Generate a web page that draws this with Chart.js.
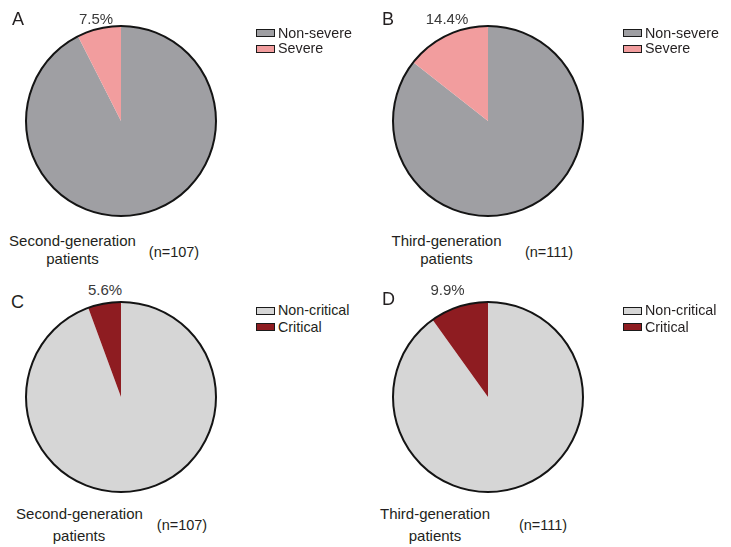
<!DOCTYPE html>
<html>
<head>
<meta charset="utf-8">
<script src="https://cdn.jsdelivr.net/npm/chart.js@4/dist/chart.umd.min.js"></script>
<style>
  html, body { margin: 0; padding: 0; background: #fff; }
  body { width: 731px; height: 547px; position: relative; overflow: hidden;
         font-family: "Liberation Sans", Arial, sans-serif; color: #231f20; }
  .t { position: absolute; line-height: 1; white-space: nowrap; }
  .c { transform: translateX(-50%); }
  .pane { position: absolute; width: 194px; height: 194px; }
  .box { position: absolute; width: 17px; height: 6px; border: 1.5px solid #1a1a1a; }
</style>
</head>
<body>
<script>
// ---- data ----
const panelLetters = ['A', 'B', 'C', 'D'];
const severityCategories = ['Non-severe', 'Severe'];
const criticalCategories = ['Non-critical', 'Critical'];
const secondGenSeverity = [99, 8];    // n=107, 7.5% severe
const thirdGenSeverity  = [95, 16];   // n=111, 14.4% severe
const secondGenCritical = [101, 6];   // n=107, 5.6% critical
const thirdGenCritical  = [100, 11];  // n=111, 9.9% critical
const groupNames = [['Second-generation', 'patients'], ['Third-generation', 'patients'],
                    ['Second-generation', 'patients'], ['Third-generation', 'patients']];
const sampleLabels = ['(n=107)', '(n=111)', '(n=107)', '(n=111)'];
const severityColors = ['#9f9fa3', '#f29d9e'];
const criticalColors = ['#d6d6d6', '#8e1c21'];

// ---- layout ----
const panels = [
  { data: secondGenSeverity, cats: severityCategories, colors: severityColors,
    cx: 121, cy: 121, letter: [12, 9.8], pct: [96, 10.6], leg: [256, 25.8, 41.4],
    cap: [[72.5, 232.6], [72.5, 251]], n: [174, 244.7] },
  { data: thirdGenSeverity, cats: severityCategories, colors: severityColors,
    cx: 488, cy: 121, letter: [382, 10], pct: [447, 10.6], leg: [623, 25.8, 41.4],
    cap: [[446.5, 232.6], [446.5, 251]], n: [549, 244.7] },
  { data: secondGenCritical, cats: criticalCategories, colors: criticalColors,
    cx: 121, cy: 397, letter: [11, 292.8], pct: [105, 282.3], leg: [256, 303.1, 319.6],
    cap: [[79.5, 506], [79, 527.6]], n: [182, 518.1] },
  { data: thirdGenCritical, cats: criticalCategories, colors: criticalColors,
    cx: 488, cy: 397, letter: [382, 290], pct: [447.5, 282.3], leg: [623, 303.1, 319.6],
    cap: [[435, 506], [435, 527.6]], n: [543, 518.1] }
];

function addText(txt, x, y, size, center) {
  const d = document.createElement('div');
  d.className = 't' + (center ? ' c' : '');
  d.textContent = txt;
  d.style.left = x + 'px';
  d.style.top = y + 'px';
  d.style.fontSize = size + 'px';
  document.body.appendChild(d);
  return d;
}

const outlinePlugin = {
  id: 'outline',
  afterDatasetsDraw(chart) {
    const arc = chart.getDatasetMeta(0).data[0];
    if (!arc) return;
    const ctx = chart.ctx;
    ctx.save();
    ctx.beginPath();
    ctx.arc(arc.x, arc.y, arc.outerRadius, 0, Math.PI * 2);
    ctx.lineWidth = 2;
    ctx.strokeStyle = '#141414';
    ctx.stroke();
    ctx.restore();
  }
};

panels.forEach((p, i) => {
  const wrap = document.createElement('div');
  wrap.className = 'pane';
  wrap.style.left = (p.cx - 97) + 'px';
  wrap.style.top = (p.cy - 97) + 'px';
  const cv = document.createElement('canvas');
  cv.width = 194; cv.height = 194;
  wrap.appendChild(cv);
  document.body.appendChild(wrap);

  new Chart(cv, {
    type: 'pie',
    data: {
      labels: p.cats,
      datasets: [{ data: p.data, backgroundColor: p.colors, borderWidth: 0,
                   hoverOffset: 0, offset: 0 }]
    },
    options: {
      responsive: false,
      animation: false,
      events: [],
      layout: { padding: 2 },
      plugins: { legend: { display: false }, tooltip: { enabled: false } }
    },
    plugins: [outlinePlugin]
  });

  // panel letter
  addText(panelLetters[i], p.letter[0], p.letter[1], 18, false);
  // percentage of minority slice
  const total = p.data.reduce((a, b) => a + b, 0);
  const pct = (p.data[1] / total * 100).toFixed(1) + '%';
  const pt = addText(pct, p.pct[0], p.pct[1], 15, true);
  pt.style.color = '#3a3a3a';
  // legend
  p.cats.forEach((c, k) => {
    const top = p.leg[1 + k];
    const b = document.createElement('div');
    b.className = 'box';
    b.style.left = p.leg[0] + 'px';
    b.style.top = (top + 3.5) + 'px';
    b.style.background = p.colors[k];
    document.body.appendChild(b);
    addText(c, p.leg[0] + 22, top, 14.3, false);
  });
  // captions
  groupNames[i].forEach((g, k) => addText(g, p.cap[k][0], p.cap[k][1], 15, true));
  addText(sampleLabels[i], p.n[0], p.n[1], 14.5, true);
});
</script>
</body>
</html>
